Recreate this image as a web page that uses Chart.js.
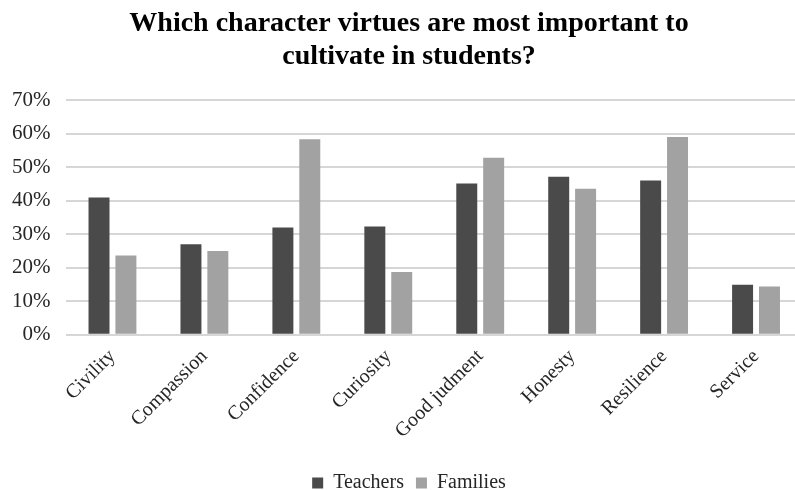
<!DOCTYPE html>
<html>
<head>
<meta charset="utf-8">
<script src="https://cdn.jsdelivr.net/npm/chart.js@4/dist/chart.umd.min.js"></script>
<style>
  html, body { margin: 0; padding: 0; background: #fff; overflow: hidden; }
  #wrap { width: 822px; height: 490px; }
</style>
</head>
<body>
<div id="wrap"><canvas id="chartVirtues"></canvas></div>
<script>
  /* Survey: character virtues most important to cultivate */
  const virtues  = ['Civility', 'Compassion', 'Confidence', 'Curiosity', 'Good judment', 'Honesty', 'Resilience', 'Service'];
  const teachers = [41, 27, 32, 32.3, 45.2, 47.2, 46.1, 14.9];
  const families = [23.7, 25, 58.4, 18.7, 52.9, 43.6, 59.1, 14.4];
  const yTicks   = [0, 10, 20, 30, 40, 50, 60, 70];

  const serif = "'Liberation Serif', 'Times New Roman', serif";
  Chart.defaults.font.family = serif;
  Chart.defaults.color = '#262626';

  new Chart(document.getElementById('chartVirtues'), {
    type: 'bar',
    data: {
      labels: virtues,
      datasets: [
        {
          label: 'Teachers',
          data: teachers,
          backgroundColor: '#4a4a4a',
          categoryPercentage: 0.585,
          barPercentage: 0.78,
        },
        {
          label: 'Families',
          data: families,
          backgroundColor: '#a2a2a2',
          categoryPercentage: 0.585,
          barPercentage: 0.78,
        },
      ],
    },
    options: {
      responsive: true,
      maintainAspectRatio: false,
      animation: false,
      // negative edges pull the plot and legend out to the canvas border
      layout: { padding: { left: -4, right: 0, top: 8, bottom: -13 } },
      plugins: {
        title: {
          display: true,
          text: ['Which character virtues are most important to', 'cultivate in students?'],
          font: { size: 28, weight: 'bold', family: serif, lineHeight: 1.15 },
          color: '#000',
          padding: { top: 0, bottom: 28 },
        },
        legend: {
          position: 'bottom',
          labels: {
            boxWidth: 11,
            boxHeight: 11,
            padding: 12,
            font: { size: 20 },
            color: '#262626',
          },
        },
        tooltip: { enabled: false },
      },
      scales: {
        x: {
          grid: { display: false },
          border: { display: false },
          afterFit: axis => {
            axis.height += 16;
            axis.paddingRight = 20;   // plot stops short of the canvas edge
          },
          ticks: {
            minRotation: 45,
            maxRotation: 45,
            font: { size: 20 },
            padding: 2,
          },
        },
        y: {
          min: 0,
          max: 70,
          afterBuildTicks: axis => { axis.ticks = yTicks.map(v => ({ value: v })); },
          grid: { color: '#d6d6d6', lineWidth: 2, drawTicks: false },
          border: { display: false },
          ticks: {
            callback: v => v + '%',
            font: { size: 21 },
            padding: 16,
          },
        },
      },
    },
  });
</script>
</body>
</html>
